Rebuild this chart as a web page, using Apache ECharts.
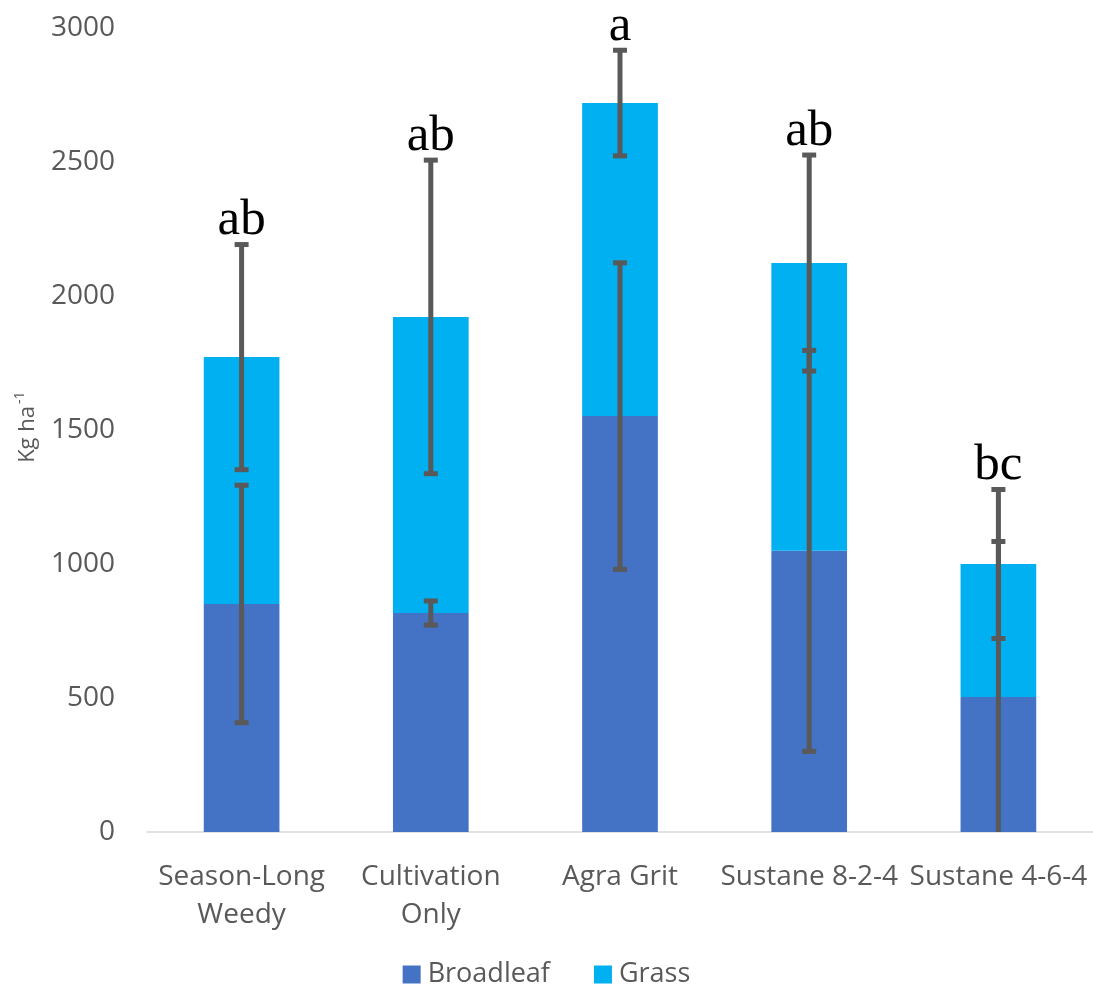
<!DOCTYPE html>
<html><head><meta charset="utf-8">
<script src="https://cdn.jsdelivr.net/npm/echarts@6/dist/echarts.min.js"></script>
<style>html,body{margin:0;padding:0;background:#fff}#c{width:1093px;height:989px}</style>
</head><body><div id="c"></div>
<script>
const categories = ['Season-Long\nWeedy', 'Cultivation\nOnly', 'Agra Grit', 'Sustane 8-2-4', 'Sustane 4-6-4'];
const broadleaf = [851, 817, 1552, 1049, 504];
const grass = [921, 1105, 1168, 1074, 496];
const broadleafErr = [443, 45, 572, 748, 580];
const grassErr = [420, 585, 197, 403, 278];
const letters = ['ab', 'ab', 'a', 'ab', 'bc'];
const yTicks = [0, 500, 1000, 1500, 2000, 2500, 3000];

const totals = broadleaf.map((b, i) => b + grass[i]);
const errData = [];
broadleaf.forEach((b, i) => errData.push([i, Math.max(0, b - broadleafErr[i]), b + broadleafErr[i], b - broadleafErr[i] < 0 ? 1 : 0]));
totals.forEach((t, i) => errData.push([i, Math.max(0, t - grassErr[i]), t + grassErr[i], t - grassErr[i] < 0 ? 1 : 0]));
const letterData = totals.map((t, i) => [i, Math.max(t + grassErr[i], broadleaf[i] + broadleafErr[i]), letters[i]]);

const ink = '#595959';
const chart = echarts.init(document.getElementById('c'), null, {renderer: 'canvas'});
chart.setOption({
  animation: false,
  textStyle: {fontFamily: 'Open Sans'},
  grid: {left: 147, right: 0, top: 28, bottom: 157, containLabel: false},
  graphic: [{
    type: 'group', x: 28, y: 436, rotation: Math.PI / 2,
    children: [
      {type: 'text', x: 30, y: 0, style: {text: 'Kg ha', font: '22px "Open Sans"', fill: ink, align: 'right', verticalAlign: 'middle'}},
      {type: 'text', x: 32, y: -8, style: {text: '-1', font: '14px "Open Sans"', fill: ink, align: 'left', verticalAlign: 'middle'}}
    ]
  }],
  legend: {
    bottom: -4, left: 'center', itemWidth: 18, itemHeight: 18, itemGap: 44,
    icon: 'rect',
    textStyle: {fontSize: 27, color: ink, fontFamily: 'Open Sans', padding: [0, 0, 0, 2]},
    data: ['Broadleaf', 'Grass']
  },
  xAxis: {
    type: 'category', data: categories,
    axisLine: {lineStyle: {color: '#d9d9d9', width: 1.5}},
    axisTick: {show: false},
    axisLabel: {fontSize: 28, color: ink, lineHeight: 38, margin: 26, interval: 0}
  },
  yAxis: {
    type: 'value', min: yTicks[0], max: yTicks[yTicks.length - 1], interval: 500,
    splitLine: {show: false}, axisLine: {show: false}, axisTick: {show: false},
    axisLabel: {fontSize: 28, color: ink, margin: 32, formatter: v => String(v)}
  },
  series: [
    {name: 'Broadleaf', type: 'bar', stack: 't', data: broadleaf, barWidth: '40%', itemStyle: {color: '#4472c4'}},
    {name: 'Grass', type: 'bar', stack: 't', data: grass, barWidth: '40%', itemStyle: {color: '#00b0f0'}},
    {
      type: 'custom', data: errData, z: 10,
      renderItem: function (params, api) {
        const x = api.value(0), lo = api.value(1), hi = api.value(2), clip = api.value(3);
        const pH = api.coord([x, hi]), pL = api.coord([x, lo]);
        const hw = 7, st = {stroke: ink, lineWidth: 5};
        const ch = [
          {type: 'line', shape: {x1: pH[0], y1: pH[1], x2: pL[0], y2: pL[1]}, style: st},
          {type: 'line', shape: {x1: pH[0] - hw, y1: pH[1], x2: pH[0] + hw, y2: pH[1]}, style: st}
        ];
        if (!clip) ch.push({type: 'line', shape: {x1: pL[0] - hw, y1: pL[1], x2: pL[0] + hw, y2: pL[1]}, style: st});
        return {type: 'group', children: ch};
      }
    },
    {
      type: 'custom', data: letterData, z: 11,
      renderItem: function (params, api) {
        const p = api.coord([api.value(0), api.value(1)]);
        return {type: 'text', style: {text: letters[params.dataIndex], x: p[0], y: p[1] + 2, align: 'center', verticalAlign: 'bottom', font: '51px "Liberation Serif"', fill: '#000'}};
      }
    }
  ]
});
</script></body></html>
